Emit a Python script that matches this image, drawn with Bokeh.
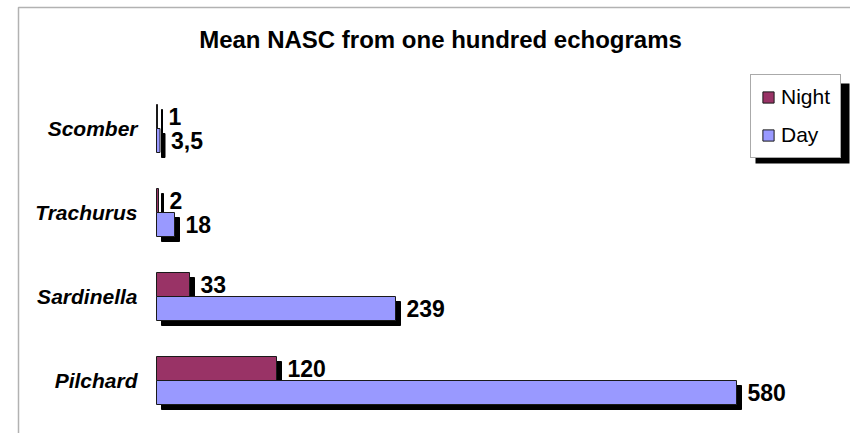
from bokeh.plotting import figure
from bokeh.models import (ColumnDataSource, Range1d, Legend, LegendItem,
                          Label, BoxAnnotation)
from bokeh.core.properties import value
from bokeh.embed import file_html
from bokeh.resources import INLINE

# ---- data ----
categories = ["Pilchard", "Sardinella", "Trachurus", "Scomber"]
night = [120, 33, 2, 1]
day = [580, 239, 18, 3.5]
night_labels = ["120", "33", "2", "1"]
day_labels = ["580", "239", "18", "3,5"]
title_text = "Mean NASC from one hundred echograms"

# ---- layout constants (pixels) ----
OX, OY = 0, 0        # page position of the canvas
W, H = 850, 433
STEP = 84.0          # px per category
BAR_H = 24 / STEP    # bar thickness in y units
SH_X, SH_Y = 5, 5 / STEP   # drop-shadow offset
LBL_OFF = 11         # gap between bar end and value label

def px_x(page_x):
    return page_x - 156

def px_y(page_y):
    return (380 - page_y) / STEP

idx = list(range(len(categories)))
y_night = [i + BAR_H / 2 for i in idx]
y_day = [i - BAR_H / 2 for i in idx]

src = ColumnDataSource(dict(
    cat=categories, idx=idx, night=night, day=day,
    yn=y_night, yd=y_day,
    yn_s=[v - SH_Y for v in y_night], yd_s=[v - SH_Y for v in y_day],
    n_sr=[v + SH_X for v in night], d_sr=[v + SH_X for v in day],
    n_lx=[v + LBL_OFF for v in night], d_lx=[v + LBL_OFF for v in day],
    nl=night_labels, dl=day_labels,
))

p = figure(width=W, height=H, output_backend="svg", toolbar_location=None,
           x_range=Range1d(px_x(OX), px_x(OX + W)),
           y_range=Range1d(px_y(OY + H), px_y(OY)),
           x_axis_location=None, y_axis_location=None,
           min_border=0, outline_line_color=None,
           background_fill_color="white", border_fill_color="white")
p.grid.visible = False

# chart frame (left & top edges)
frame = BoxAnnotation(left=px_x(18), right=px_x(1000), top=px_y(7), bottom=px_y(600),
                      fill_color=None, line_color="black", line_width=1.5,
                      level="underlay")
p.add_layout(frame)

NIGHT_C = "#993366"
DAY_C = "#9999FF"

# shadows
p.hbar(y="yn_s", left=SH_X, right="n_sr", height=BAR_H, source=src,
       fill_color="black", line_color="black")
p.hbar(y="yd_s", left=SH_X, right="d_sr", height=BAR_H, source=src,
       fill_color="black", line_color="black")

# bars
rn = p.hbar(y="yn", left=0, right="night", height=BAR_H, source=src,
            fill_color=NIGHT_C, line_color="#1a1a1a", line_width=1)
rd = p.hbar(y="yd", left=0, right="day", height=BAR_H, source=src,
            fill_color=DAY_C, line_color="#1a1a1a", line_width=1)

# value labels
for xcol, ycol, tcol in (("n_lx", "yn", "nl"), ("d_lx", "yd", "dl")):
    p.text(x=xcol, y=ycol, text=tcol, source=src,
           text_font=value("Liberation Sans"), text_font_style="bold",
           text_font_size="23px", text_color="black",
           text_align="left", text_baseline="middle")

# category labels
p.text(x=px_x(137), y="idx", text="cat", source=src,
       text_font=value("Liberation Sans"), text_font_style="bold italic",
       text_font_size="21px", text_color="black",
       text_align="right", text_baseline="middle")

# title
p.add_layout(Label(x=px_x(440), y=px_y(39), text=title_text,
                   text_font="Liberation Sans", text_font_style="bold",
                   text_font_size="24px", text_color="black",
                   text_align="center", text_baseline="middle"))

# legend shadow
p.add_layout(BoxAnnotation(left=px_x(755), right=px_x(849), top=px_y(83),
                           bottom=px_y(163), fill_color="black", fill_alpha=1,
                           line_color=None, level="underlay"))

legend = Legend(items=[LegendItem(label="Night", renderers=[rn]),
                       LegendItem(label="Day", renderers=[rd])],
                location=(750 - OX, (OY + H) - 158),
                padding=10, spacing=14, margin=0,
                glyph_width=14, glyph_height=14, label_height=23,
                label_standoff=6,
                label_text_font="Liberation Sans", label_text_font_size="21px",
                label_text_color="black",
                border_line_color="#555555", border_line_width=1,
                background_fill_color="white", background_fill_alpha=1)
p.add_layout(legend)

open("out.html", "w").write(file_html(p, INLINE))
